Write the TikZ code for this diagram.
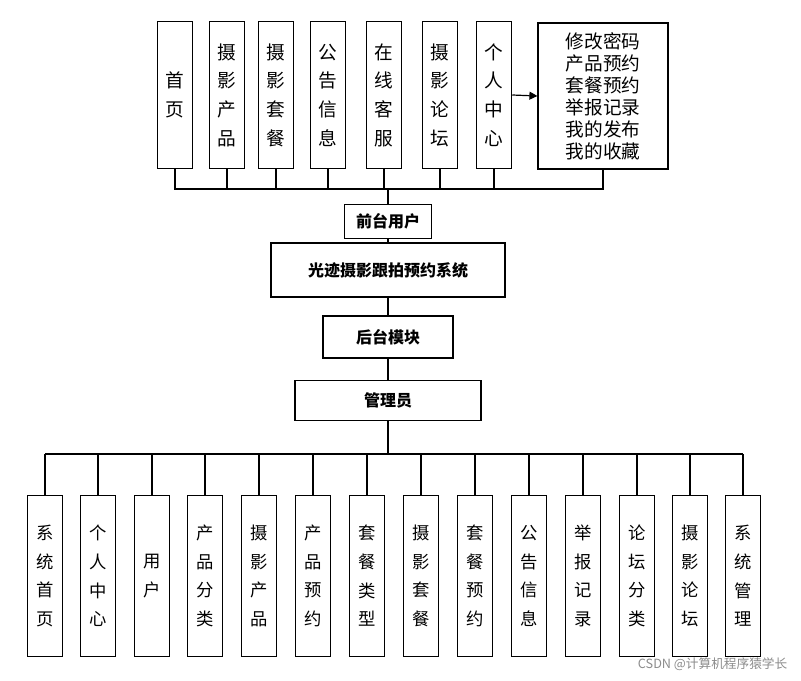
\documentclass[tikz,border=0pt]{standalone}
\usepackage{fontspec}
\setmainfont{Noto Sans CJK SC}
\usetikzlibrary{arrows.meta}
\begin{document}
\begin{tikzpicture}[x=0.75pt,y=-0.75pt,
  box/.style={draw,line width=0.9pt,inner sep=0pt,fill=white},
  vbox/.style={box,minimum width=26.5pt,minimum height=110pt,font=\fontsize{14}{21.5}\selectfont,align=center},
  bvbox/.style={box,minimum width=26pt,minimum height=121pt,font=\fontsize{13}{21.5}\selectfont,align=center},
  mbox/.style={box,font=\bfseries\fontsize{12}{14}\selectfont},
  ln/.style={line width=0.9pt}]
\useasboundingbox (0,0) rectangle (801,681);
% top
\foreach \n/\x/\t in {a/175/首\\页, b/227/摄\\影\\产\\品, c/276/摄\\影\\套\\餐, d/328/公\\告\\信\\息, e/384/在\\线\\客\\服, f/440/摄\\影\\论\\坛, g/494/个\\人\\中\\心}
  \node[vbox] (\n) at (\x,95) {\t};
\node[box,minimum width=97.5pt,minimum height=109.5pt,font=\fontsize{14}{16.5}\selectfont,align=left] (h) at (603,96) {修改密码\\产品预约\\套餐预约\\举报记录\\我的发布\\我的收藏};
\draw[ln,-{Triangle[length=6pt,width=6pt]}] (g.east) -- (h.west);
\node[mbox,minimum width=65pt,minimum height=26pt] (fu) at (388,221.5) {前台用户};
\node[mbox,minimum width=175.5pt,minimum height=40.5pt] (sys) at (388,270) {光迹摄影跟拍预约系统};
\node[mbox,minimum width=97.5pt,minimum height=31.5pt] (hm) at (388,337) {后台模块};
\node[mbox,minimum width=139.5pt,minimum height=30.5pt] (gl) at (388,400.5) {管理员};
\coordinate (tb) at (388,189);
\draw[ln] (a.south) |- (h.south |- tb) -- (h.south);
\foreach \n in {b,c,d,e,f,g} \draw[ln] (\n.south) -- (\n.south |- tb);
\draw[ln] (tb) -- (fu.north);
\draw[ln] (fu.south) -- (sys.north);
\draw[ln] (sys.south) -- (hm.north);
\draw[ln] (hm.south) -- (gl.north);
% bottom
\coordinate (bb) at (388,454);
\foreach \n/\x/\t in {p1/45/系\\统\\首\\页, p2/98/个\\人\\中\\心, p3/152/用\\户, p4/205/产\\品\\分\\类, p5/259/摄\\影\\产\\品, p6/313/产\\品\\预\\约, p7/367/套\\餐\\类\\型, p8/421/摄\\影\\套\\餐, p9/475/套\\餐\\预\\约, p10/529/公\\告\\信\\息, p11/583/举\\报\\记\\录, p12/637/论\\坛\\分\\类, p13/690/摄\\影\\论\\坛, p14/743/系\\统\\管\\理}
  {\node[bvbox] (\n) at (\x,576) {\t};
   \draw[ln] (\n.north) -- (\n.north |- bb);}
\draw[ln] (p1.north |- bb) -- (p14.north |- bb);
\draw[ln] (gl.south) -- (bb);
\node[text=black!45,font=\fontsize{9.5}{11}\selectfont,anchor=east] (wm) at (792,664) {CSDN @计算机程序猿学长};
\end{tikzpicture}
\end{document}
